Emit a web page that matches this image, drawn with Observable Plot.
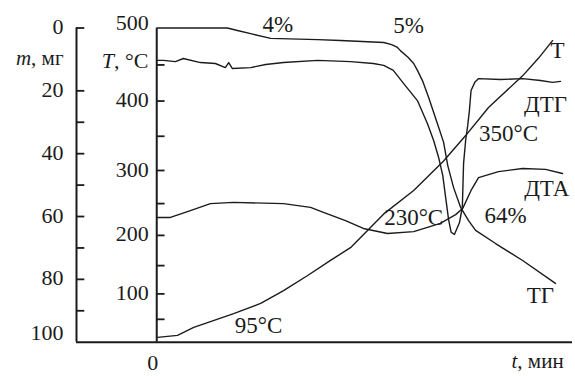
<!DOCTYPE html>
<html>
<head>
<meta charset="utf-8">
<script src="https://cdn.jsdelivr.net/npm/d3@7"></script>
<script src="https://cdn.jsdelivr.net/npm/@observablehq/plot@0.6"></script>
<style>
  html, body { margin: 0; padding: 0; background: #ffffff; }
  svg { display: block; }
  svg text { font-family: "Liberation Serif", "DejaVu Serif", serif !important; }
</style>
</head>
<body>
<script>
// ---- data (time in arbitrary minutes) ----
// Temperature curve T, °C
const tempTime = [0.2, 5, 8.9, 18.5, 25, 30.5, 36.3, 41.8, 46.6, 50.7, 54.6, 61.8, 69, 74.3, 79.8, 88, 91.8, 95.2];
const tempC    = [6, 12, 32, 62, 82, 106, 133, 159, 180, 208, 234, 270, 314, 351, 391, 435, 459, 483];

// TG curve: mass loss m, mg
const tgTime = [0.2, 17, 19.4, 22.6, 27.4, 38.7, 44.2, 54.6, 56.5, 57.9, 58.6, 60.5, 61.8, 62.7, 64, 65.4, 67.5, 69, 70, 71.4, 73.1, 75, 76.7, 81.5, 88, 95.9];
const tgMass = [0, 0, 0.8, 1.8, 3.3, 3.7, 4.0, 4.6, 5.3, 6.2, 7.2, 9.4, 11.3, 13.5, 17, 22.1, 30.4, 36.4, 43.8, 50.8, 57.1, 61.3, 64.4, 68.6, 74.0, 81.3];

// DTG curve (relative signal, drawn on the mass scale)
const dtgTime = [0.2, 1.6, 4.5, 6.4, 10.5, 14.1, 16.5, 17.3, 18.2, 22.6, 26.2, 30.5, 38.7, 46.6, 52.1, 54.6, 56.9, 59.4, 62.7, 65.1, 66.6, 67.8, 68.8, 69.6, 70.2, 70.8, 71.6, 72.8, 73.5, 73.8, 74.3, 74.8, 75.2, 75.6, 76.5, 77.4, 82.7, 88, 92.3, 95.2, 97.1];
const dtgVal  = [10.3, 10.3, 10.7, 9.7, 11.0, 11.3, 12.6, 11.0, 12.9, 12.6, 11.6, 11.0, 10.3, 10.7, 11.3, 11.9, 13.5, 17.7, 23.1, 30.4, 35.8, 41.2, 47, 55, 61, 65, 65.7, 62, 57.1, 43.1, 35.8, 31, 26.3, 19.9, 17.3, 16.1, 16.4, 16.1, 16.7, 17.3, 17.0];

// DTA curve (relative signal, drawn on the mass scale)
const dtaTime = [0.2, 3.3, 8.1, 12.9, 18.5, 30.5, 37, 40.1, 45.4, 49.7, 55.5, 61.8, 68.2, 71.9, 73.6, 75.6, 77.4, 82.2, 88, 93.5, 97.6];
const dtaVal  = [60.3, 60.3, 58.1, 55.9, 55.5, 55.9, 57.1, 58.7, 61.3, 63.8, 65.4, 64.8, 62.2, 59.4, 57.4, 51.7, 47.6, 45.7, 44.7, 45.0, 46.3];

// axis ticks
const massTicks   = [0, 20, 30, 40, 50, 60, 70, 80, 90];
const massLabels  = [0, 20, 40, 60, 80];
const massBottom  = [100];
const tempTicks   = [450, 400, 350, 300, 250, 200, 150, 100, 50];
const tempLabels  = [100, 200, 300, 400];
const tempTop     = [500];

// curve annotations (text, time, mass-scale position)
const annoText = ["4%", "5%", "T", "ДТГ", "350°C", "ДТА", "64%", "230°C", "ТГ", "95°C"];
const annoTime = [29.1, 60.6, 96.4, 93.5, 84.6, 93.8, 83.9, 61.8, 92.3, 24.5];
const annoMass = [-1.1, -0.8, 7.2, 24.3, 33.6, 51.1, 59.7, 60.3, 85.1, 94.7];

// ---- build ----
const X0 = -19.3;      // position of the mass axis on the time scale
const TICK = 2;        // tick length in time units
// temperature axis is non-linear relative to the mass axis on the scanned chart
const tToM = d3.scalePow().exponent(1.2).domain([-11.2, 500]).range([100, 0]);

const temp = tempTime.map((t, i) => ({t, v: tempC[i]}));
const tg   = tgTime.map((t, i) => ({t, v: tgMass[i]}));
const dtg  = dtgTime.map((t, i) => ({t, v: dtgVal[i]}));
const dta  = dtaTime.map((t, i) => ({t, v: dtaVal[i]}));
const anno = annoText.map((s, i) => ({s, t: annoTime[i], m: annoMass[i]}));

const ink = "#1b1b1b";
const serif = "Liberation Serif";
const lineStyle = {stroke: ink, strokeWidth: 1.4, strokeLinejoin: "round"};
const txt = {fill: ink, fontFamily: serif};

const chart = Plot.plot({
  width: 575,
  height: 376,
  marginLeft: 76,
  marginRight: 3,
  marginTop: 27.5,
  marginBottom: 34.3,
  x: {domain: [X0, 100], axis: null},
  y: {domain: [0, 100], reverse: true, axis: null},
  style: {fontFamily: serif, fontSize: "22px", background: "#ffffff", color: ink},
  marks: [
    // axes lines
    Plot.ruleX([X0], {x: d => d, y1: 0, y2: 100, stroke: ink, strokeWidth: 2}),
    Plot.ruleX([0], {x: d => d, y1: 0, y2: 100, stroke: ink, strokeWidth: 2}),
    Plot.ruleY([100], {y: d => d, x1: X0, x2: 100, stroke: ink, strokeWidth: 2}),
    // mass ticks + labels
    Plot.ruleY(massTicks, {y: d => d, x1: X0, x2: X0 + TICK, stroke: ink, strokeWidth: 1.8}),
    Plot.text(massLabels, {x: X0, y: d => d, text: d => String(d), textAnchor: "end", dx: -13, dy: -1, fontSize: 22, ...txt}),
    Plot.text(massBottom, {x: X0, y: d => d, text: d => String(d), textAnchor: "end", dx: -13, dy: -9, fontSize: 22, ...txt}),
    // temperature ticks + labels
    Plot.ruleY(tempTicks, {y: d => tToM(d), x1: 0, x2: TICK, stroke: ink, strokeWidth: 1.8}),
    Plot.text(tempLabels, {x: 0, y: d => tToM(d), text: d => String(d), textAnchor: "end", dx: -8, dy: -1, fontSize: 22, ...txt}),
    Plot.text(tempTop, {x: 0, y: d => tToM(d), text: d => String(d), textAnchor: "end", dx: -8, dy: -5, fontSize: 22, ...txt}),
    // axis titles
    Plot.text(["m, мг"], {frameAnchor: "top-left", text: d => d, textAnchor: "end", dx: -13, dy: 22.5, fontSize: 21, ...txt}),
    Plot.text(["T, °C"], {frameAnchor: "top-left", text: d => d, textAnchor: "end", dx: 72, dy: 24.5, fontSize: 22, ...txt}),
    Plot.text(["0"], {x: 0, y: 100, text: d => d, dx: -4, dy: 21, fontSize: 22, ...txt}),
    Plot.text(["t, мин"], {x: 91.6, y: 100, text: d => d, dy: 19, fontSize: 21, ...txt}),
    // curves
    Plot.line(temp, {x: "t", y: d => tToM(d.v), ...lineStyle}),
    Plot.line(tg, {x: "t", y: "v", ...lineStyle}),
    Plot.line(dtg, {x: "t", y: "v", ...lineStyle}),
    Plot.line(dta, {x: "t", y: "v", ...lineStyle}),
    // annotations
    Plot.text(anno, {x: "t", y: "m", text: "s", fontSize: 23, ...txt})
  ]
});

chart.querySelectorAll("text").forEach(el => {
  const s = el.textContent;
  if (s === "T, °C") el.innerHTML = '<tspan font-style="italic">T</tspan>, °C';
  else if (s === "m, мг") el.innerHTML = '<tspan font-style="italic">m</tspan>, мг';
  else if (s === "t, мин") el.innerHTML = '<tspan font-style="italic">t</tspan>, мин';
});

document.body.appendChild(chart);
</script>
</body>
</html>
